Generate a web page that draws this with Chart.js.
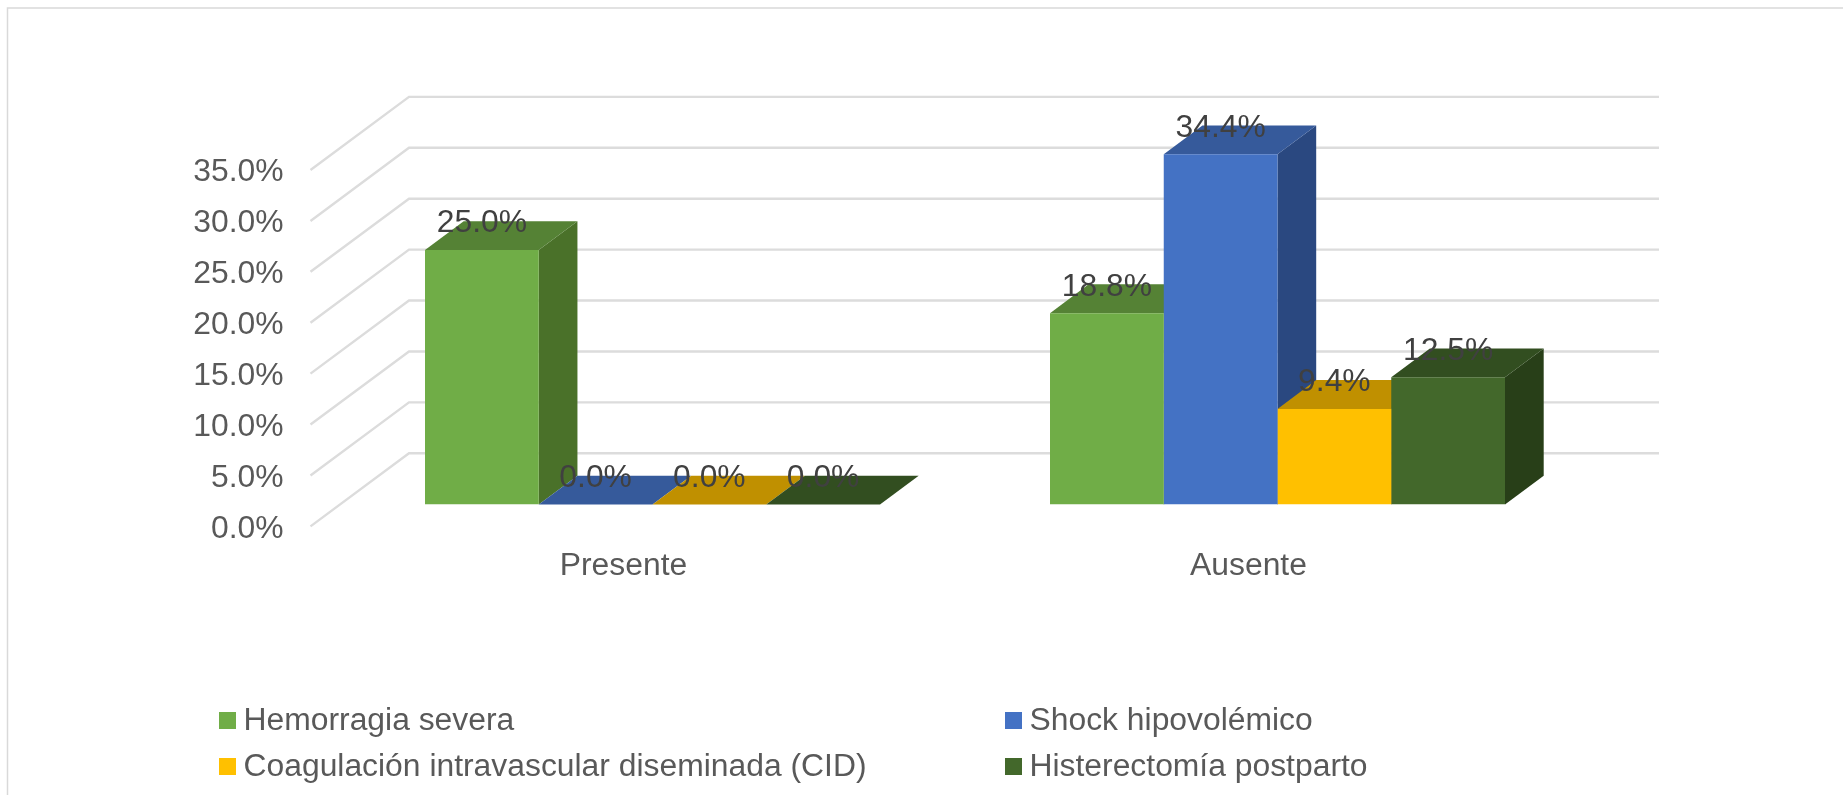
<!DOCTYPE html>
<html>
<head>
<meta charset="utf-8">
<style>html,body{margin:0;padding:0;background:#fff;overflow:hidden}canvas{display:block}</style>
<script src="https://cdn.jsdelivr.net/npm/chart.js@4/dist/chart.umd.min.js"></script>
</head>
<body>
<canvas id="c" width="1843" height="795" style="width:1843px;height:795px"></canvas>
<script>
const categories = ["Presente", "Ausente"];
const hemorragia = [25.0, 18.8];
const shock = [0.0, 34.4];
const coagulacion = [0.0, 9.4];
const histerectomia = [0.0, 12.5];
const seriesNames = ["Hemorragia severa", "Shock hipovolémico", "Coagulación intravascular diseminada (CID)", "Histerectomía postparto"];
const frontColors = ["#70AD47", "#4472C4", "#FFC000", "#43682B"];
const topColors = ["#558235", "#365A9B", "#C09000", "#324E20"];
const sideColors = ["#4A7129", "#2A4880", "#A07800", "#283F18"];

const FONT = '"Liberation Sans", Arial, sans-serif';
const FONT_SIZE = 31.85;
const DEPTH_X = 38.7, DEPTH_Y = 28.9;
const WALL = {frontX: -29.5, frontY: 21.8, backX: 69, backY: -51.3};

function poly(ctx, pts, fill) {
  ctx.beginPath();
  pts.forEach((p, i) => i ? ctx.lineTo(p[0], p[1]) : ctx.moveTo(p[0], p[1]));
  ctx.closePath();
  ctx.fillStyle = fill;
  ctx.fill();
}

const scene = {
  id: "scene",
  beforeDatasetsDraw(chart) {
    const ctx = chart.ctx, y = chart.scales.y, a = chart.chartArea;
    ctx.save();
    // outer frame
    ctx.strokeStyle = "#D9D9D9";
    ctx.lineWidth = 1.5;
    ctx.beginPath();
    ctx.moveTo(7.5, 795); ctx.lineTo(7.5, 8); ctx.lineTo(1843, 8);
    ctx.stroke();
    // wall and side gridlines
    ctx.strokeStyle = "#DCDCDC";
    ctx.lineWidth = 2.4;
    y.ticks.forEach(t => {
      const p = y.getPixelForValue(t.value);
      ctx.beginPath();
      ctx.moveTo(a.left + WALL.frontX, p + WALL.frontY);
      ctx.lineTo(a.left + WALL.backX, p + WALL.backY);
      ctx.lineTo(a.right + WALL.backX, p + WALL.backY);
      ctx.stroke();
    });
    // bar depth faces
    chart.data.datasets.forEach((ds, d) => {
      chart.getDatasetMeta(d).data.forEach(el => {
        const l = el.x - el.width / 2, r = el.x + el.width / 2;
        poly(ctx, [[r, el.y], [r + DEPTH_X, el.y - DEPTH_Y], [r + DEPTH_X, el.base - DEPTH_Y], [r, el.base]], sideColors[d]);
        poly(ctx, [[l, el.y], [l + DEPTH_X, el.y - DEPTH_Y], [r + DEPTH_X, el.y - DEPTH_Y], [r, el.y]], topColors[d]);
      });
    });
    ctx.restore();
  },
  afterDatasetsDraw(chart) {
    const ctx = chart.ctx;
    ctx.save();
    // value labels
    ctx.font = FONT_SIZE + "px " + FONT;
    ctx.fillStyle = "#404040";
    ctx.textAlign = "center";
    ctx.textBaseline = "middle";
    chart.data.datasets.forEach((ds, d) => {
      chart.getDatasetMeta(d).data.forEach((el, i) => {
        ctx.fillText(ds.data[i].toFixed(1) + "%", el.x, el.y - DEPTH_Y + 2.5);
      });
    });
    // legend
    const cols = [219, 1005], rows = [720.5, 766.5];
    ctx.textAlign = "left";
    chart.data.datasets.forEach((ds, d) => {
      const cx = cols[d % 2], cy = rows[d >> 1];
      ctx.fillStyle = ds.backgroundColor;
      ctx.fillRect(cx, cy - 8.5, 17, 17);
      ctx.fillStyle = "#595959";
      ctx.fillText(ds.label, cx + 24.5, cy + 1);
    });
    ctx.restore();
  }
};

const seriesValues = [hemorragia, shock, coagulacion, histerectomia];
new Chart(document.getElementById("c"), {
  type: "bar",
  data: {
    labels: categories,
    datasets: seriesValues.map((v, i) => ({
      label: seriesNames[i], data: v, backgroundColor: frontColors[i],
      barPercentage: 1, categoryPercentage: 0.728
    }))
  },
  options: {
    responsive: false,
    animation: false,
    devicePixelRatio: 1,
    layout: {padding: {top: 148.2, right: 253, bottom: 0, left: 0}},
    plugins: {legend: {display: false}, title: {display: false}, tooltip: {enabled: false}},
    scales: {
      x: {
        grid: {display: false}, border: {display: false},
        ticks: {color: "#595959", font: {family: FONT, size: FONT_SIZE}, padding: 35, labelOffset: -29, maxRotation: 0, autoSkip: false},
        afterFit(s) { s.height = 795 - 504.6; }
      },
      y: {
        min: 0, max: 35,
        grid: {display: false}, border: {display: false},
        ticks: {stepSize: 5, color: "#595959", font: {family: FONT, size: FONT_SIZE}, padding: 48.5, labelOffset: 24.5,
          callback: v => v.toFixed(1) + "%"},
        afterFit(s) { s.width = 340; }
      }
    }
  },
  plugins: [scene]
});
</script>
</body>
</html>
